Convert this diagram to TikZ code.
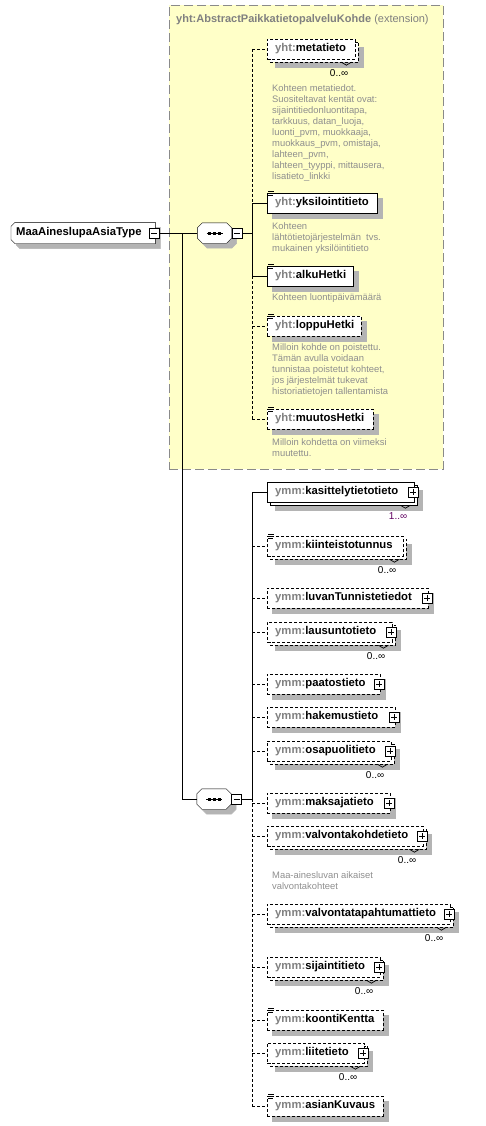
\documentclass[tikz,border=0pt]{standalone}
\usepackage{fontspec}
\setmainfont{Liberation Sans}
\usetikzlibrary{positioning}

\pgfdeclarelayer{back}
\pgfdeclarelayer{bg}
\pgfsetlayers{back,bg,main}

\definecolor{prefix}{HTML}{808080}
\definecolor{extfill}{HTML}{FFFFC8}
\definecolor{extline}{HTML}{8A8A8A}
\definecolor{doctext}{HTML}{8E8E8E}
\definecolor{occur}{HTML}{600060}
\definecolor{shadowgray}{HTML}{B4B4B4}

\newcommand{\lblfont}{\fontsize{11.3}{13}\selectfont\bfseries}
\newcommand{\docfont}{\fontsize{9.4}{11}\selectfont}
\newcommand{\yht}{\textcolor{prefix}{yht:}}
\newcommand{\ymm}{\textcolor{prefix}{ymm:}}

\begin{document}
\begin{tikzpicture}[
    x=1pt, y=-1pt, line width=1pt,
    elem/.style={draw, fill=white, anchor=west, minimum height=20, inner xsep=8, inner ysep=0, text width=#1, align=left, font=\lblfont},
    opt/.style={dash pattern=on 3pt off 2pt},
    shadowfill/.style={fill=shadowgray, draw=shadowgray, line width=0.5pt},
    pm/.style={draw, solid, fill=white, minimum size=10, inner sep=0, line width=0.8pt},
    minus/.style={pm, path picture={\draw[line width=0.8pt] ([xshift=2pt]path picture bounding box.west) -- ([xshift=-2pt]path picture bounding box.east);}},
    plus/.style={pm, path picture={\draw[line width=0.8pt] ([xshift=2pt]path picture bounding box.west) -- ([xshift=-2pt]path picture bounding box.east)
      ([yshift=-2pt]path picture bounding box.north) -- ([yshift=2pt]path picture bounding box.south);}},
    root/.style={anchor=west, minimum width=144, minimum height=21, inner xsep=5, inner ysep=0, text width=134pt, align=left, font=\lblfont},
    seq/.style={minimum width=34, minimum height=20, inner sep=0},
    ext/.style={draw=extline, fill=extfill, dash pattern=on 9pt off 4pt, anchor=north west, minimum width=274, minimum height=464, inner sep=0},
    title/.style={anchor=base west, inner sep=0, text=prefix, font=\fontsize{11}{13}\selectfont},
    desc/.style={anchor=north west, inner sep=0, align=left, text=doctext, font=\docfont},
    mult/.style={anchor=base east, inner sep=0, font=\fontsize{10}{12}\selectfont},
    doc/.pic={\draw[line width=0.7pt, solid] (1,-1.5) -- (7,-1.5) (1,0.5) -- (6,0.5) (1,2.5) -- (6,2.5);}
  ]
  \useasboundingbox (0,0) rectangle (485,1126);

  % extension area
  \begin{pgfonlayer}{back}
    \node[ext] (ext) at (169,5) {};
  \end{pgfonlayer}
  \node[title] (ext-t) at ([shift={(7,18)}]ext.north west) {\textbf{yht:AbstractPaikkatietopalveluKohde} (extension)};

  % type and sequences
  \node[root] (root) at (11,233) {MaaAineslupaAsiaType};
  \node[minus] (root-pm) at ([xshift=-1pt]root.east) {};
  \node[seq] (seqA) at (214.5,233) {};
  \node[minus, anchor=west] (seqA-pm) at (seqA.east) {};
  \node[seq] (seqB) at (214,799) {};
  \node[minus, anchor=west] (seqB-pm) at (seqB.east) {};
  \coordinate (fork) at (182.5,233);
  \coordinate (trunkA) at (252,233);
  \coordinate (trunkB) at (252,799);

  % inherited elements
  \node[elem=72pt, opt] (meta) at (267,49) {\yht metatieto};
  \node[elem=94pt] (yks) at (267,203) {\yht yksilointitieto};
  \node[elem=70pt] (alku) at (267,276) {\yht alkuHetki};
  \node[elem=78pt, opt] (loppu) at (267,326) {\yht loppuHetki};
  \node[elem=90pt, opt] (muutos) at (267,419) {\yht muutosHetki};

  \node[desc] (meta-d) at (272,84) {Kohteen metatiedot.\\Suositeltavat kentät ovat:\\sijaintitiedonluontitapa,\\tarkkuus, datan\_luoja,\\luonti\_pvm, muokkaaja,\\muokkaus\_pvm, omistaja,\\lahteen\_pvm,\\lahteen\_tyyppi, mittausera,\\lisatieto\_linkki};
  \node[desc] (yks-d) at (272,222) {Kohteen\\lähtötietojärjestelmän\ \ tvs.\\mukainen yksilöintitieto};
  \node[desc] (alku-d) at (272,293) {Kohteen luontipäivämäärä};
  \node[desc] (loppu-d) at (272,343) {Milloin kohde on poistettu.\\Tämän avulla voidaan\\tunnistaa poistetut kohteet,\\jos järjestelmät tukevat\\historiatietojen tallentamista};
  \node[desc] (muutos-d) at (272,438) {Milloin kohdetta on viimeksi\\muutettu.};

  % own elements
  \node[elem=131pt] (kas) at (267,492) {\ymm kasittelytietotieto};
  \node[elem=120pt, opt] (kiint) at (267,546) {\ymm kiinteistotunnus};
  \node[elem=145pt, opt] (luvan) at (267,598) {\ymm luvanTunnistetiedot};
  \node[elem=109pt, opt] (laus) at (267,632) {\ymm lausuntotieto};
  \node[elem=97pt, opt] (paatos) at (267,684) {\ymm paatostieto};
  \node[elem=112pt, opt] (hakem) at (267,717) {\ymm hakemustieto};
  \node[elem=108pt, opt] (osap) at (267,751) {\ymm osapuolitieto};
  \node[elem=107pt, opt] (maksaja) at (267,803) {\ymm maksajatieto};
  \node[elem=140pt, opt] (valvk) at (267,836) {\ymm valvontakohdetieto};
  \node[elem=167pt, opt] (valvt) at (267,914) {\ymm valvontatapahtumattieto};
  \node[elem=97pt, opt] (sija) at (267,967) {\ymm sijaintitieto};
  \node[elem=100pt, opt] (koonti) at (267,1020) {\ymm koontiKentta};
  \node[elem=81pt, opt] (liite) at (267,1053) {\ymm liitetieto};
  \node[elem=100pt, opt] (kuvaus) at (267,1106) {\ymm asianKuvaus};

  \node[desc] (valvk-d) at (272,871) {Maa-ainesluvan aikaiset\\valvontakohteet};

  % shadows, stacked copies and outlines
  \begin{pgfonlayer}{bg}
    \foreach \e in {yks, alku, loppu, muutos, luvan, paatos, hakem, maksaja, koonti, kuvaus}
      \filldraw[shadowfill] ([shift={(5,5)}]\e.north west) rectangle ([shift={(5,5)}]\e.south east);
    \foreach \e in {meta, kas, kiint, laus, osap, valvk, valvt, sija, liite}
      \filldraw[shadowfill] ([shift={(8,8)}]\e.north west) rectangle ([shift={(8,8)}]\e.south east);
    \draw[fill=white] ([shift={(3,3)}]kas.north west) rectangle ([shift={(3,3)}]kas.south east);
    \foreach \e in {meta, kiint, laus, osap, valvk, valvt, sija, liite}
      \draw[fill=white, opt] ([shift={(3,3)}]\e.north west) rectangle ([shift={(3,3)}]\e.south east);

    \filldraw[shadowfill] ([shift={(9,5)}]root.north west) -- ([shift={(5,5)}]root.north east) -- ([shift={(5,5)}]root.south east)
      -- ([shift={(9,5)}]root.south west) -- ([shift={(5,1)}]root.south west) -- ([shift={(5,9)}]root.north west) -- cycle;
    \draw[fill=white] ([xshift=4pt]root.north west) -- (root.north east) -- (root.south east) -- ([xshift=4pt]root.south west)
      -- ([yshift=4pt]root.south west) -- ([yshift=-4pt]root.north west) -- cycle;
    \foreach \q in {seqA, seqB}{
      \filldraw[shadowfill] ([shift={(10,5)}]\q.north west) -- ([shift={(0,5)}]\q.north east) -- ([shift={(5,10)}]\q.north east)
        -- ([shift={(5,0)}]\q.south east) -- ([shift={(0,5)}]\q.south east) -- ([shift={(10,5)}]\q.south west)
        -- ([shift={(5,0)}]\q.south west) -- ([shift={(5,10)}]\q.north west) -- cycle;
      \draw[fill=white] ([xshift=5pt]\q.north west) -- ([xshift=-5pt]\q.north east) -- ([yshift=-5pt]\q.north east)
        -- ([yshift=5pt]\q.south east) -- ([xshift=-5pt]\q.south east) -- ([xshift=5pt]\q.south west)
        -- ([yshift=5pt]\q.south west) -- ([yshift=-5pt]\q.north west) -- cycle;
    }
  \end{pgfonlayer}

  % sequence marks
  \foreach \q in {seqA, seqB}{
    \draw ([xshift=-8pt]\q.center) -- ([xshift=8pt]\q.center);
    \foreach \d in {-5,0,5}
      \fill ([xshift=\d pt]\q.center) +(-1.5,-1.5) rectangle +(1.5,1.5);
  }

  % documentation icons
  \foreach \e in {yks, alku, loppu, muutos, kiint, koonti, kuvaus}
    \pic at (\e.north west) {doc};

  % expand buttons
  \foreach \e in {kas, luvan, laus, paatos, hakem, osap, maksaja, valvk, valvt, sija, liite}
    \node[plus] (\e-pm) at ([xshift=-1pt]\e.east) {};

  % occurrences
  \node[mult, text=occur] (kas-m) at ([shift={(-7,17)}]kas.south east) {1..∞};
  \foreach \e in {meta, kiint, laus, osap, valvk, valvt, sija, liite}
    \node[mult] (\e-m) at ([shift={(-7,17)}]\e.south east) {0..∞};
  \foreach \e in {meta, kas, kiint, laus, osap, valvk, valvt, sija, liite}
    \draw[line width=0.7pt] ([shift={(-14,3)}]\e.south east) -- ++(5,3) -- ++(5,-3);

  % connectors
  \draw (root-pm.east) -- (seqA.west);
  \draw (fork) |- (seqB.west);
  \draw (seqA-pm.east) -- (trunkA);
  \draw (seqB-pm.east) -- (trunkB);

  \draw[opt] (trunkA |- meta.west) -- (trunkA |- yks.west);
  \draw (trunkA |- yks.west) -- (trunkA |- alku.west);
  \draw[opt] (trunkA |- alku.west) -- (trunkA |- muutos.west);
  \foreach \e in {yks, alku}
    \draw (trunkA |- \e.west) -- (\e.west);
  \foreach \e in {meta, loppu, muutos}
    \draw[opt] (trunkA |- \e.west) -- (\e.west);

  \draw (trunkB |- kas.west) -- (trunkB);
  \draw[opt] (trunkB) -- (trunkB |- kuvaus.west);
  \draw (trunkB |- kas.west) -- (kas.west);
  \foreach \e in {kiint, luvan, laus, paatos, hakem, osap, maksaja, valvk, valvt, sija, koonti, liite, kuvaus}
    \draw[opt] (trunkB |- \e.west) -- (\e.west);
\end{tikzpicture}
\end{document}
